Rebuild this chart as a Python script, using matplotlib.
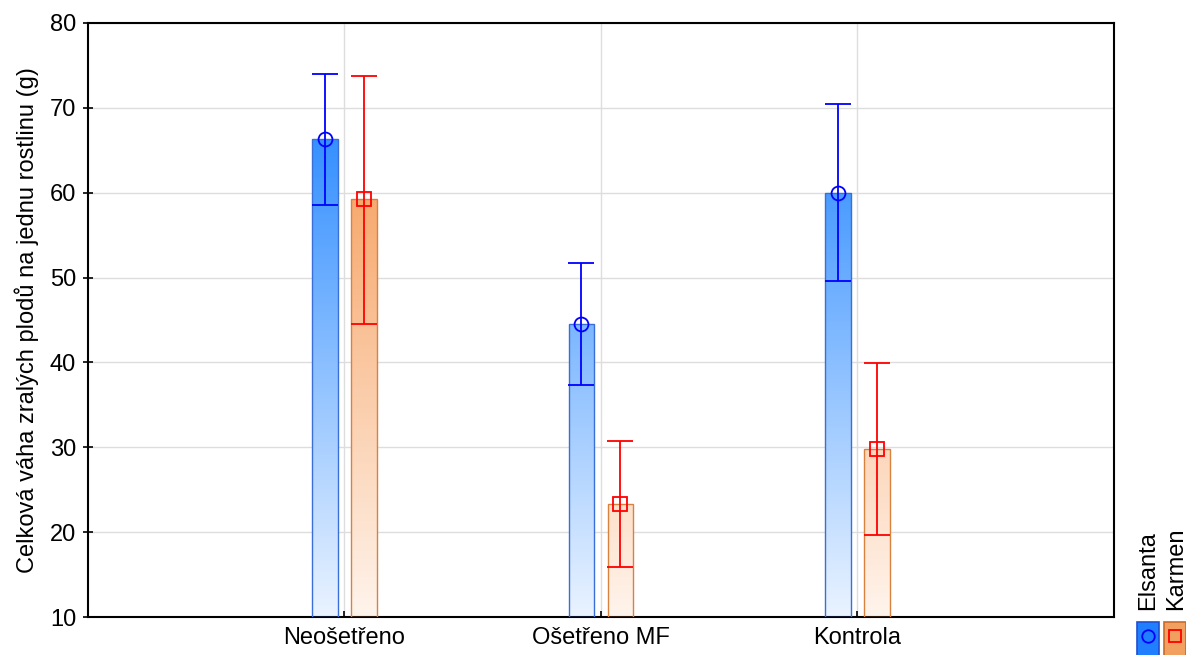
import matplotlib.pyplot as plt
import numpy as np
from matplotlib.colors import LinearSegmentedColormap, Normalize
from matplotlib.patches import Rectangle

plt.rcParams['font.family'] = ['Liberation Sans', 'DejaVu Sans']

skupiny = ['Neošetřeno', 'Ošetřeno MF', 'Kontrola']
odrudy = ['Elsanta', 'Karmen']

# prumery a meze chybovych usecek
elsanta_prumer = [66.3, 44.5, 60.0]
elsanta_dolni = [58.6, 37.3, 49.6]
elsanta_horni = [74.0, 51.7, 70.4]

karmen_prumer = [59.2, 23.3, 29.8]
karmen_dolni = [44.5, 15.9, 19.7]
karmen_horni = [73.8, 30.7, 39.9]

y_ticks = [10, 20, 30, 40, 50, 60, 70, 80]

cmap_modra = LinearSegmentedColormap.from_list('modra', ['#eaf3ff', '#2a8aff'])
cmap_oranz = LinearSegmentedColormap.from_list('oranz', ['#fff4ec', '#f59a55'])
norma = Normalize(10, 70)

fig = plt.figure(figsize=(11.86, 6.55), dpi=100)
ax = fig.add_axes([0.0742, 0.058, 0.865, 0.907])
ax.set_xlim(0, 4)
ax.set_ylim(10, 80)
ax.grid(True, color='#dddddd', linewidth=1)
ax.set_axisbelow(True)

x = np.arange(1, len(skupiny) + 1)
sirka = 0.1
posun = 0.076


def kresli_sloupce(pozice, prumer, dolni, horni, cmap, hrana, barva, znacka):
    for px, m, lo, hi in zip(pozice, prumer, dolni, horni):
        x0 = px - sirka / 2
        grad = np.linspace(10, m, 200).reshape(-1, 1)
        im = ax.imshow(grad, cmap=cmap, norm=norma, extent=[x0, x0 + sirka, 10, m],
                       origin='lower', aspect='auto', zorder=2)
        obdelnik = Rectangle((x0, 10), sirka, m - 10, facecolor='none',
                             edgecolor=hrana, linewidth=1, zorder=3)
        ax.add_patch(obdelnik)
        im.set_clip_path(obdelnik)
    pozice = np.array(pozice)
    prumer = np.array(prumer)
    ax.errorbar(pozice, prumer,
                yerr=[prumer - np.array(dolni), np.array(horni) - prumer],
                fmt='none', ecolor=barva, elinewidth=1.3, capsize=9.4, capthick=1.3, zorder=4)
    ax.plot(pozice, prumer, linestyle='none', marker=znacka, markersize=10,
            markerfacecolor='none', markeredgecolor=barva, markeredgewidth=1.3, zorder=5)


kresli_sloupce(x - posun, elsanta_prumer, elsanta_dolni, elsanta_horni,
               cmap_modra, '#3a6fd8', '#0000ff', 'o')
kresli_sloupce(x + posun, karmen_prumer, karmen_dolni, karmen_horni,
               cmap_oranz, '#d9823f', '#ff0000', 's')

ax.set_xticks(x)
ax.set_xticklabels(skupiny, fontsize=17)
ax.set_yticks(y_ticks)
ax.tick_params(axis='y', labelsize=17, direction='inout', length=7, width=1.2, pad=5)
ax.tick_params(axis='x', direction='in', length=4, width=1.2, pad=7)
ax.set_ylabel('Celková váha zralých plodů na jednu rostlinu (g)', fontsize=17, labelpad=8)
for s in ax.spines.values():
    s.set_linewidth(1.5)

# legenda vpravo dole
fig.text(1148 / 1186, 1 - 610 / 655, odrudy[0], rotation=90, ha='center', va='bottom', fontsize=17)
fig.text(1176 / 1186, 1 - 610 / 655, odrudy[1], rotation=90, ha='center', va='bottom', fontsize=17)
fig.patches.append(Rectangle((1137 / 1186, -2 / 655), 22 / 1186, 35 / 655, transform=fig.transFigure,
                             facecolor='#1f7fff', edgecolor='#1f4fd0', linewidth=1.2))
fig.patches.append(Rectangle((1164 / 1186, -2 / 655), 22 / 1186, 35 / 655, transform=fig.transFigure,
                             facecolor='#f2a060', edgecolor='#c86a2a', linewidth=1.2))
fig.lines.append(plt.Line2D([1148 / 1186], [19 / 655], transform=fig.transFigure, marker='o',
                            markersize=9, markerfacecolor='none', markeredgecolor='#0000ff',
                            markeredgewidth=1.3))
fig.lines.append(plt.Line2D([1175 / 1186], [19 / 655], transform=fig.transFigure, marker='s',
                            markersize=9, markerfacecolor='none', markeredgecolor='#ff0000',
                            markeredgewidth=1.3))

fig.savefig('out.png', dpi=100)
